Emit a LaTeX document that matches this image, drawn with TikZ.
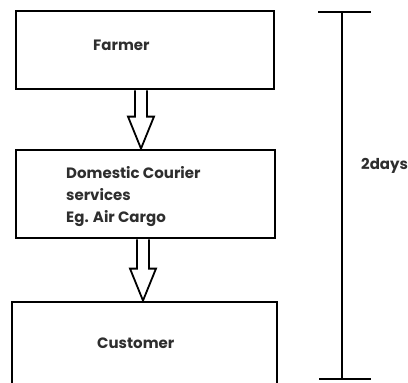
\documentclass[tikz,border=0pt]{standalone}
\usepackage{fontspec}
\setmainfont{Poppins}
\usetikzlibrary{calc}
\begin{document}
\begin{tikzpicture}[x=1pt,y=-1pt,
  box/.style={draw=black,line width=2.8pt,rectangle,inner sep=0pt},
  lbl/.style={font=\bfseries\fontsize{15}{22}\selectfont,color=black!82,inner sep=0pt,anchor=west,align=left},
  hollow/.style={line width=1.8pt,line join=miter,
    to path={let \p1=(\tikztostart), \p2=(\tikztotarget) in
      (\x1-6pt,\y1) -- (\x1-6pt,\y2+32pt) -- (\x1-13pt,\y2+32pt) -- (\x1,\y2)
      -- (\x1+13pt,\y2+32pt) -- (\x1+6pt,\y2+32pt) -- (\x1+6pt,\y1)}},
  brk/.style={line width=2.2pt}]
\useasboundingbox (0,0) rectangle (408,383);
\clip (0,0) rectangle (408,383);
\node[box,minimum width=258pt,minimum height=78pt] (f) at (145,50) {};
\node[box,minimum width=259pt,minimum height=88pt] (d) at (145.5,194) {};
\node[box,minimum width=265pt,minimum height=84pt] (c) at (144.5,344) {};
\node[lbl] (ft) at (93,45) {Farmer};
\node[lbl] (dt) at (66,197) {Domestic Courier\\services\\Eg. Air Cargo};
\node[lbl] (ct) at (97,343) {Customer};
\draw[hollow] ($(f.south)+(-4,0)$) to ($(d.north)+(-4,0)$);
\draw[hollow] ($(d.south)+(-2.5,0)$) to ($(c.north)+(-2.5,0)$);
\coordinate (bt) at (342,12);
\coordinate (bb) at (342,379);
\draw[brk] (bt) -- (bb);
\draw[brk] ($(bt)+(-24,0)$) -- ($(bt)+(29,0)$);
\draw[brk] ($(bb)+(-23,0)$) -- ($(bb)+(29,0)$);
\node[lbl] (days) at (361,166) {2days};
\end{tikzpicture}
\end{document}
